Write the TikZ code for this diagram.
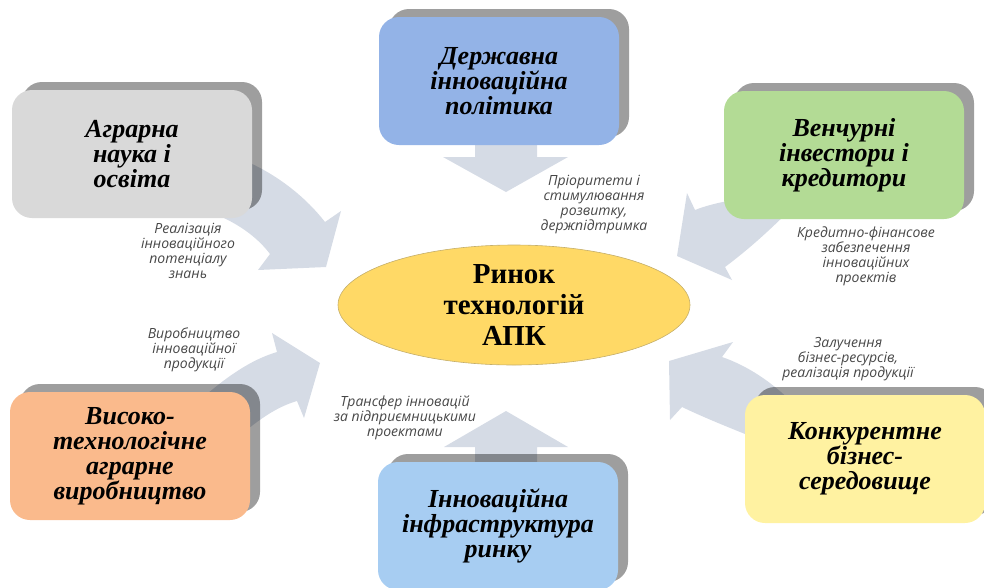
\documentclass[tikz,border=0pt]{standalone}
\usepackage{fontspec}
\setmainfont{Liberation Serif}
\newfontfamily\labelfont{Open Sans}
\usetikzlibrary{shapes.geometric,shadows,backgrounds}

\definecolor{agrogray}{HTML}{D9D9D9}
\definecolor{policyblue}{HTML}{93B3E7}
\definecolor{ventgreen}{HTML}{B3DB95}
\definecolor{prodorange}{HTML}{FABA8C}
\definecolor{infrablue}{HTML}{A7CDF2}
\definecolor{bizyellow}{HTML}{FFF2A1}
\definecolor{marketgold}{HTML}{FFD966}
\definecolor{marketedge}{HTML}{C4AE6A}
\definecolor{arrowfill}{HTML}{D5DBE5}
\definecolor{labeltext}{HTML}{474747}

\begin{document}
\begin{tikzpicture}[x=1pt,y=-1pt,
    box/.style={rounded corners=20pt, minimum width=240pt, minimum height=128pt,
      align=center, inner sep=0pt, font=\fontsize{26}{25}\selectfont\bfseries\itshape,
      drop shadow={shadow xshift=10pt, shadow yshift=8pt, fill=black, opacity=0.38}},
    lbl/.style={align=center, inner sep=0pt, text=labeltext,
      font=\labelfont\itshape\fontsize{14}{15}\selectfont},
    blockarrow/.style={fill=arrowfill}]
    \useasboundingbox (0,0) rectangle (984,587);

    % Centre
    \node[ellipse, fill=marketgold, draw=marketedge, line width=0.6pt,
      minimum width=352pt, minimum height=120pt, inner sep=0pt,
      font=\fontsize{29}{31}\selectfont\bfseries, align=center]
      (market) at (514,305) {Ринок\\технологій\\АПК};

    % Participants
    \node[box, fill=agrogray] (agro) at (132,154) {Аграрна\\наука і\\освіта};
    \node[box, fill=policyblue] (policy) at (499,81) {Державна\\інноваційна\\політика};
    \node[box, fill=ventgreen] (venture) at (844,155) {Венчурні\\інвестори і\\кредитори};
    \node[box, fill=prodorange] (hightech) at (130,456) {Високо-\\технологічне\\аграрне\\виробництво};
    \node[box, fill=infrablue] (infra) at (498,526) {Інноваційна\\інфраструктура\\ринку};
    \node[box, fill=bizyellow] (business) at (865,459) {Конкурентне\\бізнес-\\середовище};

    % Block arrows
    \begin{scope}[on background layer]
      \fill[blockarrow] (475,120) -- (537,120) -- (537,157) -- (568,157) -- (506,192)
        -- (443,157) -- (475,157) -- cycle;
      \fill[blockarrow] (475,475) -- (475,447) -- (444,447) -- (506,411) -- (568,447)
        -- (537,447) -- (537,475) -- cycle;
      \fill[blockarrow] (215,150) .. controls (262,163) and (300,190) .. (325,222)
        -- (341,211) -- (326,267) -- (258,270) -- (270,254)
        .. controls (258,238) and (238,222) .. (205,210) -- cycle;
      \fill[blockarrow] (200,400) .. controls (225,378) and (250,360) .. (277,352)
        -- (272,333) -- (320,363) -- (304,418) -- (297,401)
        .. controls (280,406) and (262,416) .. (235,440) -- cycle;
      \fill[blockarrow] (780,195) .. controls (745,197) and (715,202) .. (695,210)
        -- (687,193) -- (677,256) -- (732,280) -- (725,267)
        .. controls (745,252) and (765,235) .. (795,205) -- cycle;
      \fill[blockarrow] (722,357) -- (733,342) -- (669,361) -- (670,420) -- (682,407)
        .. controls (705,418) and (730,428) .. (765,442) -- (795,405)
        .. controls (772,382) and (748,366) .. (722,357) -- cycle;
    \end{scope}

    % Labels
    \node[lbl] (lpolicy) at (594,205) {Пріоритети і\\стимулювання\\розвитку,\\держпідтримка};
    \node[lbl] (lagro) at (188,251) {Реалізація\\інноваційного\\потенціалу\\знань};
    \node[lbl] (lventure) at (866,256) {Кредитно-фінансове\\забезпечення\\інноваційних\\проектів};
    \node[lbl] (lhightech) at (194,350) {Виробництво\\інноваційної\\продукції};
    \node[lbl] (linfra) at (405,418) {Трансфер інновацій\\за підприємницькими\\проектами};
    \node[lbl] (lbusiness) at (848,359) {Залучення\\бізнес-ресурсів,\\реалізація продукції};
  \end{tikzpicture}
\end{document}
